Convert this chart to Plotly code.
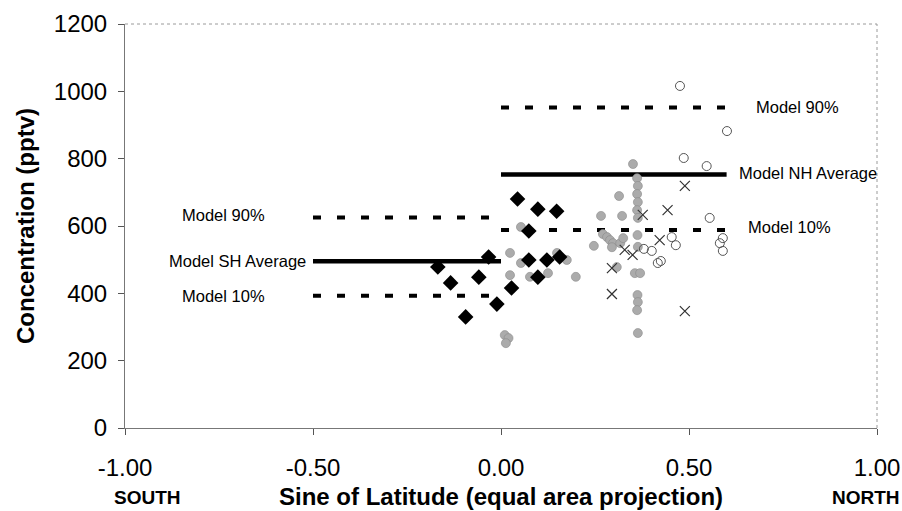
import plotly.graph_objects as go

# ---------------- data ----------------
# Southern-hemisphere stations (black diamonds)
diamond_x = [-0.168, -0.134, -0.094, -0.059, -0.033, -0.011, 0.028, 0.044, 0.074, 0.074,
             0.098, 0.098, 0.122, 0.148, 0.156]
diamond_y = [478, 431, 330, 448, 508, 368, 416, 680, 585, 499,
             650, 448, 499, 644, 508]

# grey stippled circles
gray_x = [0.351, 0.362, 0.364, 0.362, 0.364, 0.362, 0.364, 0.363, 0.364, 0.356, 0.370,
          0.363, 0.364, 0.362, 0.364,
          0.314, 0.266, 0.322, 0.271, 0.282, 0.290, 0.298, 0.295, 0.317, 0.325, 0.308,
          0.024, 0.053, 0.053, 0.024, 0.077, 0.125, 0.149, 0.175, 0.199, 0.247,
          0.010, 0.020, 0.013]
gray_y = [784, 742, 719, 695, 671, 647, 624, 573, 538, 460, 460,
          395, 374, 350, 282,
          689, 630, 630, 576, 567, 558, 549, 537, 549, 564, 478,
          520, 597, 490, 454, 449, 460, 520, 499, 449, 541,
          276, 267, 252]

# open circles
open_x = [0.476, 0.601, 0.486, 0.547, 0.555, 0.454, 0.465, 0.590, 0.582, 0.590,
          0.380, 0.401, 0.417, 0.425]
open_y = [1016, 882, 802, 778, 624, 567, 543, 564, 549, 526,
          532, 526, 490, 496]

# crosses
cross_x = [0.489, 0.377, 0.443, 0.422, 0.329, 0.350, 0.295, 0.295, 0.489]
cross_y = [719, 633, 647, 558, 529, 514, 475, 398, 347]

# model statistics
sh_x = [-0.5, 0.0]
nh_x = [0.0, 0.6]
sh_p90, sh_avg, sh_p10 = 625, 495, 393
nh_p90, nh_avg, nh_p10 = 952, 753, 588

x_tickvals = [-1.0, -0.5, 0.0, 0.5, 1.0]
x_ticktext = ["-1.00", "-0.50", "0.00", "0.50", "1.00"]
y_tickvals = [0, 200, 400, 600, 800, 1000, 1200]

label_text = ["Model 90%", "Model NH Average", "Model 10%",
              "Model 90%", "Model SH Average", "Model 10%"]
label_x = [0.672, 0.627, 0.652, -0.623, -0.514, -0.623]
label_y = [953, 757, 597, 632, 496, 392]
label_anchor = ["left", "left", "left", "right", "right", "right"]

# ---------------- figure ----------------
FONT = "Liberation Sans, Arial, Helvetica, sans-serif"
fig = go.Figure()

def hline(xs, level, dash):
    fig.add_trace(go.Scatter(
        x=xs, y=[level, level], mode="lines",
        line=dict(color="black", width=4.5 if dash == "solid" else 4, dash=dash),
        hoverinfo="skip", showlegend=False))

DASH = "8px,16px"
hline(sh_x, sh_p90, DASH)
hline(sh_x, sh_avg, "solid")
hline(sh_x, sh_p10, DASH)
hline(nh_x, nh_p90, DASH)
hline(nh_x, nh_avg, "solid")
hline(nh_x, nh_p10, DASH)

fig.add_trace(go.Scatter(x=gray_x, y=gray_y, mode="markers",
                         marker=dict(symbol="circle", size=9, color="#ababab",
                                     line=dict(color="#8a8a8a", width=0.6)),
                         showlegend=False))
fig.add_trace(go.Scatter(x=open_x, y=open_y, mode="markers",
                         marker=dict(symbol="circle-open", size=9, color="#555555",
                                     line=dict(width=1)),
                         showlegend=False))
fig.add_trace(go.Scatter(x=cross_x, y=cross_y, mode="markers",
                         marker=dict(symbol="x-thin-open", size=10, color="#333333",
                                     line=dict(width=1.2)),
                         showlegend=False))
fig.add_trace(go.Scatter(x=diamond_x, y=diamond_y, mode="markers",
                         marker=dict(symbol="diamond", size=12, color="black",
                                     line=dict(width=0)),
                         showlegend=False))

for t, lx, ly, a in zip(label_text, label_x, label_y, label_anchor):
    fig.add_annotation(x=lx, y=ly, xref="x", yref="y", text=t, showarrow=False,
                       xanchor=a, yanchor="middle",
                       font=dict(family=FONT, size=16.5, color="black"))

fig.add_annotation(x=(147 - 125) / 752, y=-0.173, xref="paper", yref="paper",
                   text="<b>SOUTH</b>", showarrow=False, xanchor="center", yanchor="middle",
                   font=dict(family=FONT, size=19, color="black"))
fig.add_annotation(x=(866 - 125) / 752, y=-0.173, xref="paper", yref="paper",
                   text="<b>NORTH</b>", showarrow=False, xanchor="center", yanchor="middle",
                   font=dict(family=FONT, size=19, color="black"))

# dotted top and right frame
fig.add_shape(type="line", xref="paper", yref="paper", x0=0, x1=1, y0=1, y1=1,
              line=dict(color="#9a9a9a", width=1, dash="dot"))
fig.add_shape(type="line", xref="paper", yref="paper", x0=1, x1=1, y0=0, y1=1,
              line=dict(color="#9a9a9a", width=1, dash="dot"))

fig.update_layout(
    width=902, height=511,
    margin=dict(l=125, r=25, t=24, b=83, autoexpand=False),
    plot_bgcolor="white", paper_bgcolor="white",
    showlegend=False,
    font=dict(family=FONT, color="black"),
)
fig.update_xaxes(
    range=[-1, 1], tickvals=x_tickvals, ticktext=x_ticktext,
    ticks="outside", ticklen=6, tickcolor="#555555", tickwidth=1,
    showline=True, linecolor="#777777", linewidth=1,
    showgrid=False, zeroline=False, automargin=False,
    tickfont=dict(family=FONT, size=24, color="black"),
    ticklabelstandoff=12,
    title=dict(text="<b>Sine of Latitude (equal area projection)</b>",
               font=dict(family=FONT, size=24, color="black"), standoff=8),
)
fig.update_yaxes(
    range=[0, 1200], tickvals=y_tickvals,
    ticks="outside", ticklen=6, tickcolor="#555555", tickwidth=1,
    showline=True, linecolor="#777777", linewidth=1,
    showgrid=False, zeroline=False, automargin=False,
    tickfont=dict(family=FONT, size=24, color="black"),
    ticklabelstandoff=6,
    title=dict(text="<b>Concentration (pptv)</b>",
               font=dict(family=FONT, size=24, color="black"), standoff=12),
)

# remove the browser's default 8 px body margin so the 902x511 figure fills the window
fig.write_html("out.html",
               config={"displayModeBar": False},
               post_script="document.body.style.margin='0';"
                           "document.body.style.overflow='hidden';")
